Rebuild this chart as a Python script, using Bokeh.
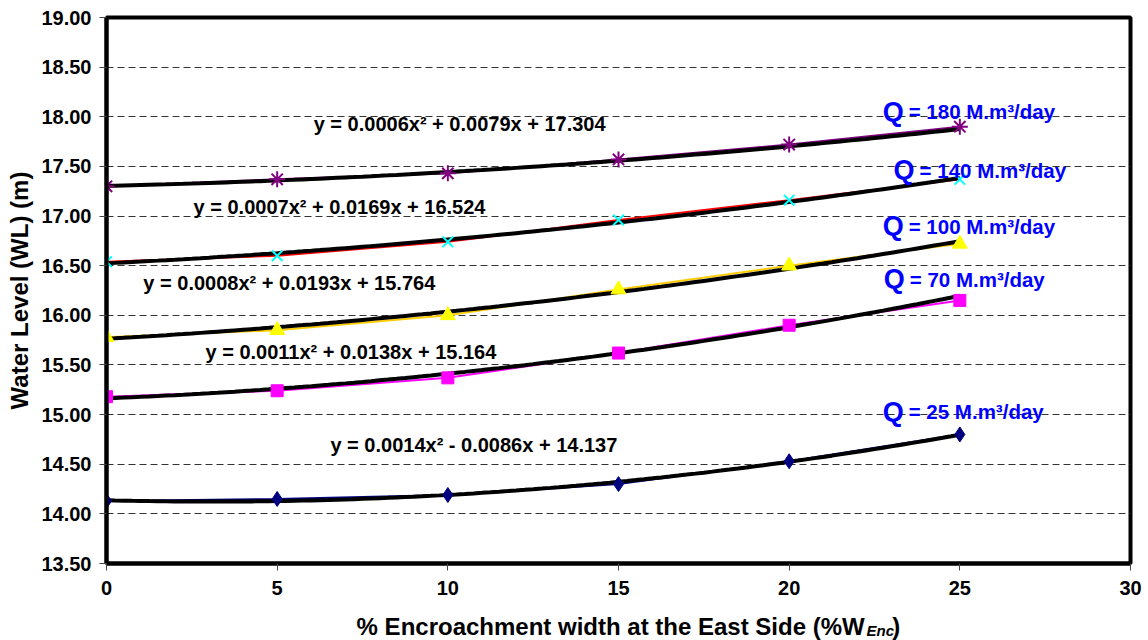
import numpy as np
from bokeh.plotting import figure
from bokeh.layouts import column
from bokeh.models import Label, FixedTicker, NumeralTickFormatter, Range1d, ColumnDataSource
from bokeh.core.properties import value
from bokeh.embed import file_html
from bokeh.resources import INLINE

# ---- data ----
enc_pct = [0, 5, 10, 15, 20, 25]
wl_q180 = [17.30, 17.37, 17.43, 17.57, 17.72, 17.90]
wl_q140 = [16.54, 16.60, 16.74, 16.96, 17.16, 17.37]
wl_q100 = [15.78, 15.85, 16.00, 16.26, 16.50, 16.72]
wl_q70 = [15.18, 15.24, 15.37, 15.62, 15.90, 16.15]
wl_q25 = [14.13, 14.15, 14.19, 14.30, 14.53, 14.80]

# trend-line coefficients (a, b, c) as printed on the chart
coef_q180 = [0.0006, 0.0079, 17.304]
coef_q140 = [0.0007, 0.0169, 16.524]
coef_q100 = [0.0008, 0.0193, 15.764]
coef_q70 = [0.0011, 0.0138, 15.164]
coef_q25 = [0.0014, -0.0086, 14.137]

q_labels = ["180", "140", "100", "70", "25"]
eq_labels = [
    "y = 0.0006x\u00b2 + 0.0079x + 17.304",
    "y = 0.0007x\u00b2 + 0.0169x + 16.524",
    "y = 0.0008x\u00b2 + 0.0193x + 15.764",
    "y = 0.0011x\u00b2 + 0.0138x + 15.164",
    "y = 0.0014x\u00b2 - 0.0086x + 14.137",
]
y_ticks = [13.5, 14.0, 14.5, 15.0, 15.5, 16.0, 16.5, 17.0, 17.5, 18.0, 18.5, 19.0]
x_ticks = [0, 5, 10, 15, 20, 25, 30]
x_title = ["% Encroachment width at the East Side (%W", "Enc", ")"]

FONT = "Liberation Sans"
W = 1148

p = figure(width=W, height=604, output_backend="svg", toolbar_location=None,
           x_range=Range1d(0, 30), y_range=Range1d(13.5, 19.0),
           min_border_left=106, min_border_right=18, min_border_top=17, min_border_bottom=41)
p.background_fill_color = "white"
p.border_fill_color = "white"
p.outline_line_color = "black"
p.outline_line_width = 4

p.xgrid.visible = False
p.ygrid.grid_line_color = "#333333"
p.ygrid.grid_line_dash = "7 4"
p.ygrid.grid_line_width = 1

p.yaxis.ticker = FixedTicker(ticks=y_ticks)
p.xaxis.ticker = FixedTicker(ticks=x_ticks)
p.yaxis.formatter = NumeralTickFormatter(format="0.00")
for ax in (p.xaxis, p.yaxis):
    ax.axis_line_color = "black"
    ax.axis_line_width = 4
    ax.major_tick_line_color = "#444444"
    ax.major_tick_line_width = 1
    ax.major_tick_in = 0
    ax.major_tick_out = 7
    ax.minor_tick_line_color = None
    ax.major_label_text_font = FONT
    ax.major_label_text_font_style = "bold"
    ax.major_label_text_font_size = "20px"
    ax.major_label_text_color = "black"
p.yaxis.major_label_standoff = 8
p.xaxis.major_label_standoff = 10

p.yaxis.axis_label = "Water Level (WL) (m)"
p.yaxis.axis_label_text_font = FONT
p.yaxis.axis_label_text_font_style = "bold"
p.yaxis.axis_label_text_font_size = "24px"
p.yaxis.axis_label_text_color = "black"
p.yaxis.axis_label_standoff = 5

series = [
    (wl_q180, coef_q180, "#800080", "asterisk", 16, None),
    (wl_q140, coef_q140, "#FF0000", "x", 15, None),
    (wl_q100, coef_q100, "#FFCC00", "triangle", 15, "#FFFF00"),
    (wl_q70, coef_q70, "#FF00FF", "square", 12, "#FF00FF"),
    (wl_q25, coef_q25, "#000080", "diamond", 15, "#000080"),
]
marker_colors = ["#800080", "#00FFFF", "#FFFF00", "#FF00FF", "#000080"]

xs_fit = np.linspace(0, 25, 101)
for (wl, coef, lc, mk, ms, fc), mcol in zip(series, marker_colors):
    src = ColumnDataSource(dict(x=enc_pct, y=wl))
    p.line("x", "y", source=src, line_color=lc, line_width=2)
    a, b, c = coef
    p.line(xs_fit, a * xs_fit ** 2 + b * xs_fit + c, line_color="black", line_width=4)
    p.scatter("x", "y", source=src, marker=mk, size=ms, line_color=mcol,
              fill_color=fc if fc else mcol, line_width=2 if mk in ("asterisk", "x") else 1)

# Q labels
q_pos = [(22.74, 18.053), (23.06, 17.459), (22.74, 16.895), (22.77, 16.361), (22.74, 15.031)]
for (qx, qy), qv in zip(q_pos, q_labels):
    p.add_layout(Label(x=qx, y=qy, text="Q", text_font=FONT, text_font_style="bold",
                       text_font_size="27px", text_color="#0000FF", text_baseline="alphabetic"))
    p.add_layout(Label(x=qx, y=qy, x_offset=26, text="= " + qv + " M.m\u00b3/day", text_font=FONT,
                       text_font_style="bold", text_font_size="20.5px", text_color="#0000FF",
                       text_baseline="alphabetic"))

# equation labels
eq_pos = [(6.07, 17.93), (2.55, 17.09), (1.08, 16.33), (2.90, 15.63), (6.56, 14.69)]
for (ex, ey), et in zip(eq_pos, eq_labels):
    p.add_layout(Label(x=ex, y=ey, text=et, text_font=FONT, text_font_style="bold",
                       text_font_size="20px", text_color="black", text_baseline="middle"))

# x axis title (with subscript) drawn in a strip below the chart
t = figure(width=W, height=36, output_backend="svg", toolbar_location=None,
           x_range=Range1d(0, W), y_range=Range1d(0, 36),
           x_axis_type=None, y_axis_type=None, min_border=0)
t.outline_line_color = None
t.xgrid.visible = False
t.ygrid.visible = False
t.text(x=[850], y=[14], text=[x_title[0]], text_font=value(FONT), text_font_style="bold",
       text_font_size="24px", text_color="black", text_align="right", text_baseline="alphabetic")
t.text(x=[852], y=[10], text=[x_title[1]], text_font=value(FONT), text_font_style="bold italic",
       text_font_size="15px", text_color="black", text_align="left", text_baseline="alphabetic")
t.text(x=[881], y=[14], text=[x_title[2]], text_font=value(FONT), text_font_style="bold",
       text_font_size="24px", text_color="black", text_align="left", text_baseline="alphabetic")

layout = column(p, t, spacing=0)
open("out.html", "w").write(file_html(layout, INLINE))
